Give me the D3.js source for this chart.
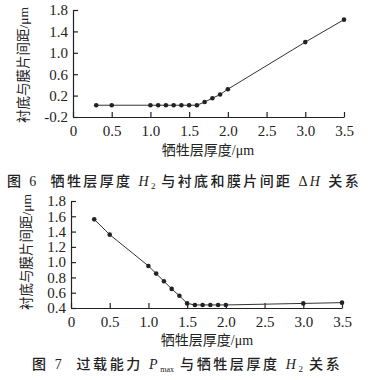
<!DOCTYPE html>
<html><head><meta charset="utf-8">
<script src="https://cdn.jsdelivr.net/npm/d3@7"></script>
<style>
body{margin:0;background:#fff;}
</style></head>
<body><svg id="c" width="369" height="380"></svg>
<script>
const thickness = [0.3,0.5,1.0,1.1,1.2,1.3,1.4,1.5,1.6,1.7,1.8,1.9,2.0,3.0,3.5];
const gapTop = [0.02,0.02,0.02,0.02,0.02,0.02,0.02,0.02,0.02,0.08,0.15,0.22,0.32,1.2,1.62];
const gapBottom = [1.56,1.36,0.95,0.85,0.75,0.65,0.56,0.46,0.44,0.44,0.44,0.44,0.44,0.46,0.47];
const xTicks = [0,0.5,1.0,1.5,2.0,2.5,3.0,3.5];
const yTicksTop = [-0.2,0.2,0.6,1.0,1.4,1.8];
const yTicksBottom = [0.4,0.6,0.8,1.0,1.2,1.4,1.6,1.8];
const yLabel = "衬底与膜片间距/μm";
const xLabel = "牺牲层厚度/μm";

const FONT = "'Liberation Serif','Noto Sans CJK SC',serif";
const svg = d3.select("#c");
const fmtX = d => d === 0 ? "0" : d.toFixed(1);
const fmtY = d => d.toFixed(1);

function panel(cfg){
  const g = svg.append("g");
  const x = d3.scaleLinear().domain([0,3.5]).range([cfg.x0, cfg.x1]);
  const y = d3.scaleLinear().domain(cfg.yDomain).range([cfg.yBottom, cfg.yTop]);
  const xa = g.append("g").attr("transform",`translate(0,${cfg.yBottom})`)
    .call(d3.axisBottom(x).tickValues(xTicks).tickFormat(fmtX).tickSizeInner(-5).tickSizeOuter(0).tickPadding(5));
  const ya = g.append("g").attr("transform",`translate(${cfg.x0},0)`)
    .call(d3.axisLeft(y).tickValues(cfg.yTicks).tickFormat(fmtY).tickSizeInner(-5).tickSizeOuter(0).tickPadding(5));
  [xa,ya].forEach(a=>{
    a.attr("font-family",null).attr("font-size",null);
    a.selectAll("path,line").attr("stroke","#222").attr("stroke-width",1.2);
    a.selectAll("text").style("font-family",FONT).style("font-size","15px").attr("fill","#222");
  });
  xa.selectAll("text").attr("dy","0.95em");
  const line = d3.line().x((d,i)=>x(thickness[i])).y(d=>y(d));
  g.append("path").datum(cfg.values).attr("d",line).attr("fill","none").attr("stroke","#333").attr("stroke-width",1);
  g.selectAll("circle.p").data(cfg.values).enter().append("circle")
    .attr("cx",(d,i)=>x(thickness[i])).attr("cy",d=>y(d)).attr("r",2.3).attr("fill","#222");
  g.append("text").attr("transform",`translate(${cfg.yLabX},${cfg.yLabY}) rotate(-90)`)
    .attr("text-anchor","middle").attr("dominant-baseline","middle")
    .style("font-family",FONT).style("font-size","13.5px").attr("fill","#222").text(yLabel);
  g.append("text").attr("x",cfg.xLabX).attr("y",cfg.xLabY).attr("text-anchor","middle")
    .attr("dominant-baseline","middle").style("font-family",FONT).style("font-size","14px").attr("fill","#222").text(xLabel);
}

panel({x0:73,x1:344,yTop:10,yBottom:117,yDomain:[-0.2,1.8],yTicks:yTicksTop,values:gapTop,
  yLabX:25,yLabY:65,xLabX:208,xLabY:152});
panel({x0:71,x1:342,yTop:201,yBottom:308,yDomain:[0.4,1.8],yTicks:yTicksBottom,values:gapBottom,
  yLabX:28,yLabY:252,xLabX:207,xLabY:342});

// captions
function caption(parts, xStart, yc, ls){
  const t = svg.append("text").attr("x",xStart).attr("y",yc).attr("dominant-baseline","middle")
    .style("font-family",FONT).style("font-size","14px").style("font-weight","500").attr("fill","#222").attr("xml:space","preserve");
  parts.forEach(p=>{
    const s = t.append("tspan").text(p.t).style("letter-spacing", p.sub ? "0px" : ls);
    if(p.i) s.style("font-style","italic");
    if(p.sub){ s.style("font-size",p.fs||"9px").attr("dy","4"); }
    if(p.back) s.attr("dy","-4");
  });
}
caption([{t:"图 6\u00a0\u00a0"},{t:"牺牲层厚度 "},{t:"H",i:1},{t:"2",sub:1},{t:" 与衬底和膜片间距 Δ",back:1},{t:"H",i:1},{t:" 关系"}],7,183,"2.4px");
caption([{t:"图 7\u00a0\u00a0"},{t:"过载能力 "},{t:"P",i:1},{t:"max",sub:1,fs:"8px"},{t:" 与牺牲层厚度 ",back:1},{t:"H",i:1},{t:"2",sub:1},{t:" 关系",back:1}],32,366,"2.6px");
</script></body></html>
